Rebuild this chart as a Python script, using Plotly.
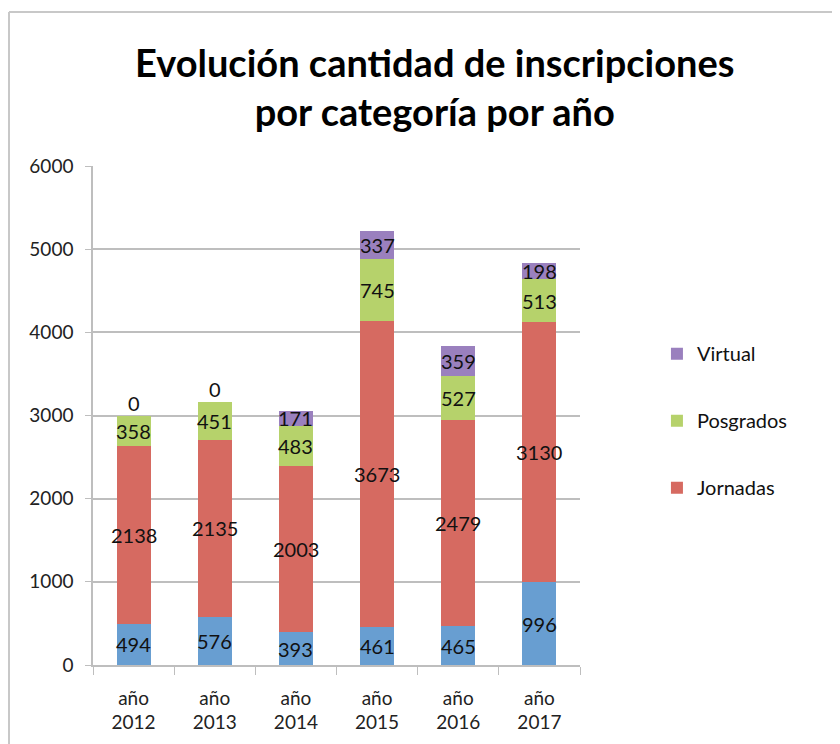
import plotly.graph_objects as go

categories = ["año<br>2012", "año<br>2013", "año<br>2014", "año<br>2015", "año<br>2016", "año<br>2017"]
base_vals = [494, 576, 393, 461, 465, 996]
jornadas = [2138, 2135, 2003, 3673, 2479, 3130]
posgrados = [358, 451, 483, 745, 527, 513]
virtual = [0, 0, 171, 337, 359, 198]
y_ticks = [0, 1000, 2000, 3000, 4000, 5000, 6000]

FONT = "Lato"
series = [
    ("Otros", base_vals, "#689ED1", False, 4),
    ("Jornadas", jornadas, "#D66A61", True, 3),
    ("Posgrados", posgrados, "#B6D26B", True, 2),
    ("Virtual", virtual, "#9A80BE", True, 1),
]

W, H = 832, 736
L, T, B = 85, 158, 79
R = W - 572
PH = H - T - B
PW = W - L - R

fig = go.Figure()
for name, vals, color, show, rank in series:
    fig.add_trace(go.Bar(
        x=categories, y=vals, name=name, marker=dict(color=color, line=dict(width=0)),
        showlegend=show, legendgroup=name, legendrank=rank, width=0.42,
    ))

annotations = []
cum = [0] * len(categories)
for name, vals, color, show, rank in series:
    for j, v in enumerate(vals):
        if v == 0:
            ypos = cum[j]
            yshift = 13
        else:
            ypos = cum[j] + v / 2
            yshift = 0
        annotations.append(dict(x=categories[j], y=ypos, text=str(v), showarrow=False,
                                yshift=yshift, font=dict(family=FONT, size=20, color="#111111"),
                                xref="x", yref="y"))
        cum[j] += v

annotations.append(dict(
    text="<b>Evolución cantidad de inscripciones<br>por categoría por año</b>",
    xref="paper", yref="paper", x=(427 - L) / PW, y=1 + (T - 78.5) / PH,
    xanchor="center", yanchor="middle", showarrow=False,
    font=dict(family=FONT, size=38, color="#000000"),
))

fx = (1 - L) / PW
fy = 1 + (T - 4) / PH
fig.update_layout(
    barmode="stack",
    width=W, height=H,
    paper_bgcolor="white", plot_bgcolor="white",
    margin=dict(l=L, r=R, t=T, b=B, autoexpand=False),
    font=dict(family=FONT, size=19, color="#222222"),
    legend=dict(x=1.158, y=0.663, xanchor="left", yanchor="top", traceorder="grouped",
                tracegroupgap=38, font=dict(family=FONT, size=20, color="#111111"),
                itemwidth=30, bgcolor="rgba(0,0,0,0)"),
    annotations=annotations,
    shapes=[
        dict(type="line", xref="paper", yref="paper", x0=fx, x1=2, y0=fy, y1=fy,
             line=dict(color="#C8C8C8", width=2)),
        dict(type="line", xref="paper", yref="paper", x0=fx, x1=fx, y0=fy, y1=-1,
             line=dict(color="#C8C8C8", width=2)),
    ],
)
fig.update_yaxes(range=[0, 6000], tickvals=y_ticks, showgrid=True, gridcolor="#BEBEBE", gridwidth=1.5,
                 showline=True, linecolor="#BEBEBE", linewidth=1.5, ticks="outside", ticklen=6,
                 tickcolor="#BEBEBE", ticklabelstandoff=8,
                 tickfont=dict(family=FONT, size=19, color="#222222"), zeroline=False)
fig.update_xaxes(showline=True, linecolor="#BEBEBE", linewidth=1.5, ticks="outside", ticklen=8,
                 tickcolor="#BEBEBE", tickson="boundaries", ticklabelstandoff=15,
                 tickfont=dict(family=FONT, size=19, color="#222222"))

fig.write_html("out.html")
